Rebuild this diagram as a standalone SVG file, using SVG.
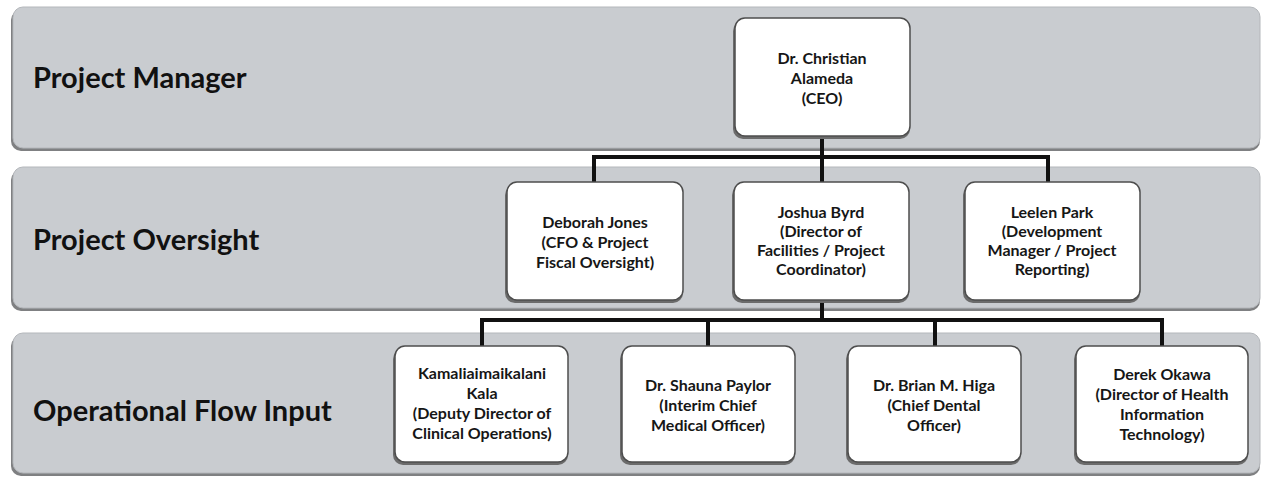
<svg xmlns="http://www.w3.org/2000/svg" width="1263" height="478" viewBox="0 0 1263 478">
<style>
.band{fill:#c9ccd0;stroke:#b4b7bb;stroke-width:1}
.bshadow{fill:#7f8082}
.box{fill:#ffffff;stroke:#4d4d4d;stroke-width:1.5}
.xshadow{fill:#6b6b6b}
.lbl{font-family:Lato,"Open Sans",sans-serif;font-weight:bold;font-size:29px;fill:#111}
.t{font-family:Lato,"Open Sans",sans-serif;font-weight:bold;font-size:16px;fill:#161616;text-anchor:middle}
.con{stroke:#111;stroke-width:4;fill:none;stroke-linecap:square}
</style>
<rect width="1263" height="478" fill="#ffffff"/>
<g id="band-manager">
<rect class="bshadow" x="11" y="10" width="1249" height="141" rx="10"/>
<rect class="band" x="13" y="7" width="1247" height="141" rx="10"/>
<text class="lbl" x="33" y="88">Project Manager</text>
</g>
<g id="band-oversight">
<rect class="bshadow" x="11" y="170" width="1249" height="141" rx="10"/>
<rect class="band" x="13" y="167" width="1247" height="141" rx="10"/>
<text class="lbl" x="33" y="250">Project Oversight</text>
</g>
<g id="band-operational">
<rect class="bshadow" x="11" y="336" width="1249" height="140" rx="10"/>
<rect class="band" x="13" y="333" width="1247" height="140" rx="10"/>
<text class="lbl" x="33" y="421">Operational Flow Input</text>
</g>
<g id="connectors">
<path class="con" d="M822 136 V182 M594 157 H1048 M594 157 V182 M1048 157 V182"/>
<path class="con" d="M822 300 V320 M482 320 H1162 M482 320 V346 M708 320 V346 M935 320 V346 M1162 320 V346"/>
</g>
<g id="ceo">
<rect class="xshadow" x="733" y="21" width="177" height="118" rx="10"/>
<rect class="box" x="735" y="18" width="175" height="118" rx="10"/>
<text class="t" x="822" y="64">Dr. Christian</text>
<text class="t" x="822" y="84">Alameda</text>
<text class="t" x="822" y="104">(CEO)</text>
</g>
<g id="deborah">
<rect class="xshadow" x="505" y="185" width="178" height="118" rx="10"/>
<rect class="box" x="507" y="182" width="176" height="118" rx="10"/>
<text class="t" x="595" y="228">Deborah Jones</text>
<text class="t" x="595" y="248">(CFO &amp; Project</text>
<text class="t" x="595" y="268">Fiscal Oversight)</text>
</g>
<g id="joshua">
<rect class="xshadow" x="732" y="185" width="177" height="118" rx="10"/>
<rect class="box" x="734" y="182" width="175" height="118" rx="10"/>
<text class="t" x="821" y="218">Joshua Byrd</text>
<text class="t" x="821" y="237">(Director of</text>
<text class="t" x="821" y="256">Facilities / Project</text>
<text class="t" x="821" y="275">Coordinator)</text>
</g>
<g id="leelen">
<rect class="xshadow" x="963" y="185" width="177" height="118" rx="10"/>
<rect class="box" x="965" y="182" width="175" height="118" rx="10"/>
<text class="t" x="1052" y="218">Leelen Park</text>
<text class="t" x="1052" y="237">(Development</text>
<text class="t" x="1052" y="256">Manager / Project</text>
<text class="t" x="1052" y="275">Reporting)</text>
</g>
<g id="kamaliai">
<rect class="xshadow" x="393" y="349" width="175" height="116" rx="10"/>
<rect class="box" x="395" y="346" width="173" height="116" rx="10"/>
<text class="t" x="482" y="379">Kamaliaimaikalani</text>
<text class="t" x="482" y="399">Kala</text>
<text class="t" x="482" y="419">(Deputy Director of</text>
<text class="t" x="482" y="439">Clinical Operations)</text>
</g>
<g id="shauna">
<rect class="xshadow" x="620" y="349" width="175" height="116" rx="10"/>
<rect class="box" x="622" y="346" width="173" height="116" rx="10"/>
<text class="t" x="708" y="391">Dr. Shauna Paylor</text>
<text class="t" x="708" y="411">(Interim Chief</text>
<text class="t" x="708" y="431">Medical Officer)</text>
</g>
<g id="brian">
<rect class="xshadow" x="846" y="349" width="175" height="116" rx="10"/>
<rect class="box" x="848" y="346" width="173" height="116" rx="10"/>
<text class="t" x="934" y="391">Dr. Brian M. Higa</text>
<text class="t" x="934" y="411">(Chief Dental</text>
<text class="t" x="934" y="431">Officer)</text>
</g>
<g id="derek">
<rect class="xshadow" x="1074" y="349" width="174" height="116" rx="10"/>
<rect class="box" x="1076" y="346" width="172" height="116" rx="10"/>
<text class="t" x="1162" y="380">Derek Okawa</text>
<text class="t" x="1162" y="400">(Director of Health</text>
<text class="t" x="1162" y="420">Information</text>
<text class="t" x="1162" y="440">Technology)</text>
</g>
</svg>
